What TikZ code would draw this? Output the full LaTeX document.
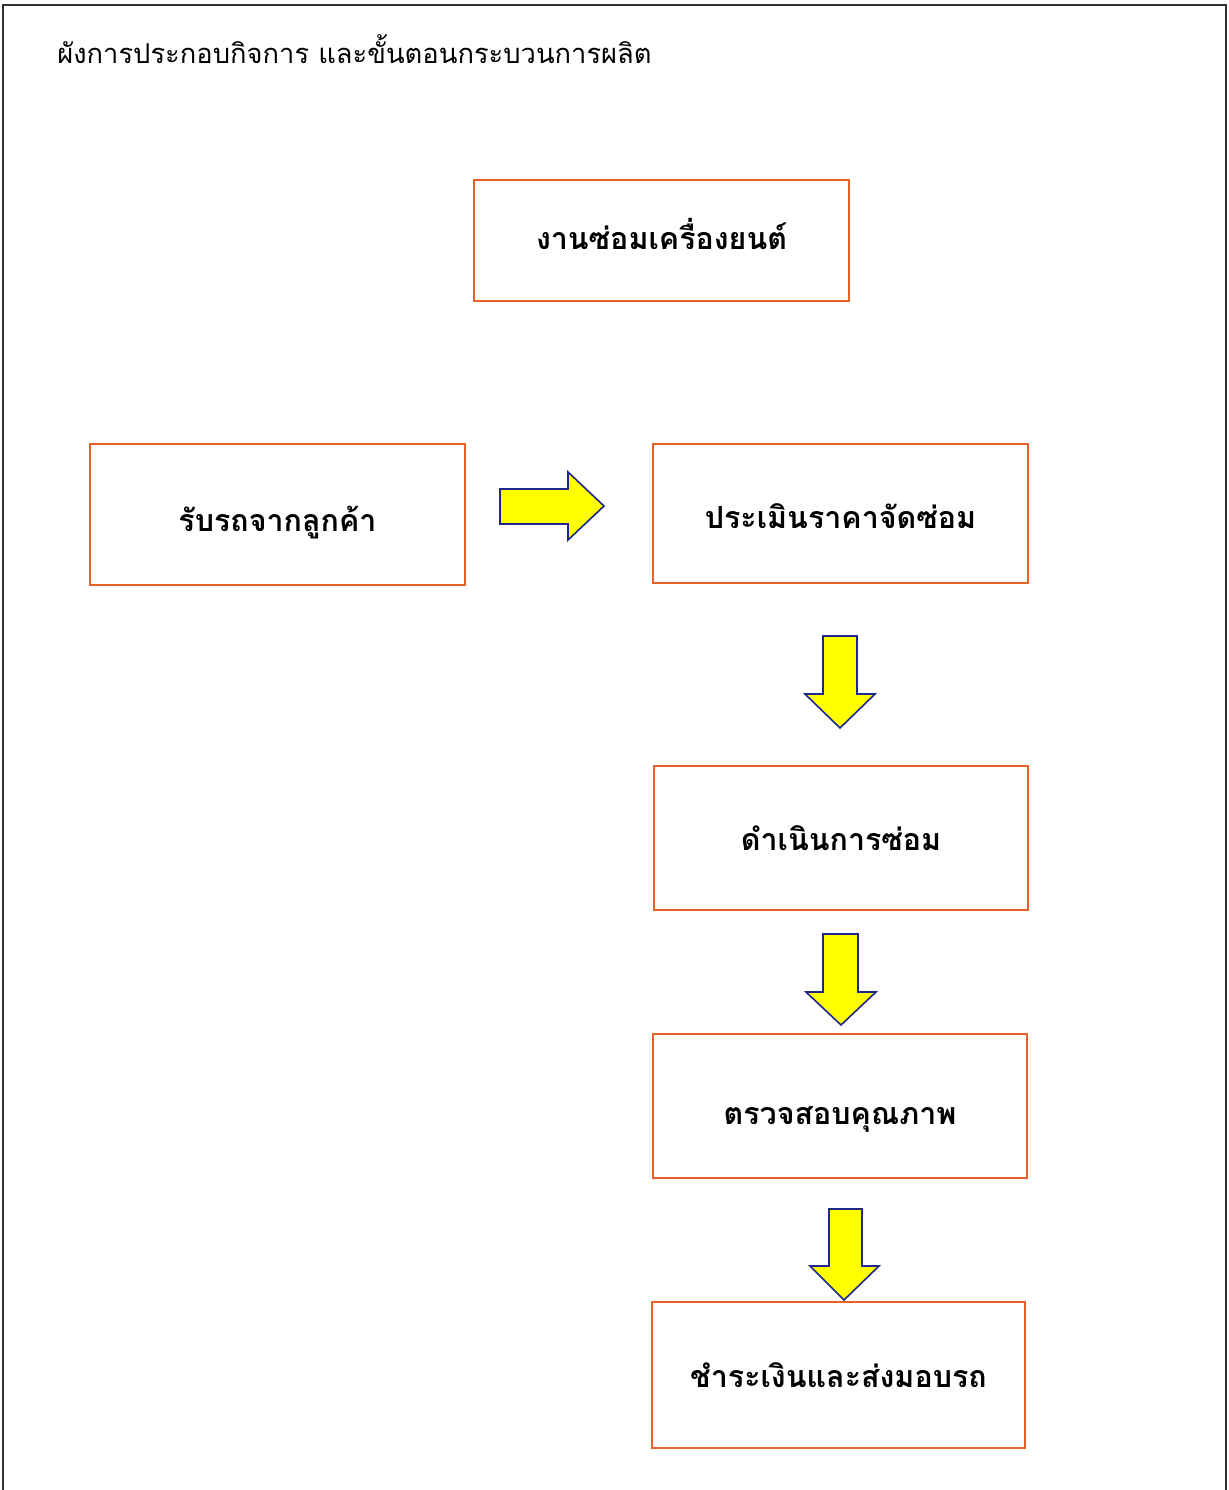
\documentclass[tikz,border=0pt]{standalone}
\usepackage{fontspec}
\newfontfamily\thaifont[Script=Thai]{Loma}
\definecolor{boxorange}{RGB}{232,98,40}
\definecolor{arrowyellow}{RGB}{255,255,0}
\definecolor{arrowblue}{RGB}{30,40,140}
\tikzset{
  stepbox/.style={draw=boxorange, line width=1.1pt, fill=white, inner sep=0pt, text height=17pt, text depth=5pt, font=\thaifont\bfseries\fontsize{15.2}{18}\selectfont},
  fatarrow/.style={draw=arrowblue, line width=0.8pt, fill=arrowyellow, line join=miter},
}
\begin{document}
\begin{tikzpicture}[x=0.5pt,y=-0.5pt]
\useasboundingbox (0,0) rectangle (1229,1490);
% page frame
\draw[line width=1pt, black!80] (3,1490) -- (3,5) -- (1226,5) -- (1226,1490);
% title
\node[anchor=west, inner sep=0pt, font=\thaifont\fontsize{13.65}{16}\selectfont] (title) at (57,49) {ผังการประกอบกิจการ และขั้นตอนกระบวนการผลิต};
% boxes
\node[stepbox, minimum width=187.5pt, minimum height=60.5pt] (b0) at (661.5,240.5) {\raisebox{1.5pt}{งานซ่อมเครื่องยนต์}};
\node[stepbox, minimum width=187.5pt, minimum height=70.5pt] (b1) at (277.5,514.5) {\raisebox{-2.5pt}{รับรถจากลูกค้า}};
\node[stepbox, minimum width=187.5pt, minimum height=69.5pt] (b2) at (840.5,513.5) {\raisebox{-1.5pt}{ประเมินราคาจัดซ่อม}};
\node[stepbox, minimum width=187pt, minimum height=72pt] (b3) at (841,838) {ดำเนินการซ่อม};
\node[stepbox, minimum width=187pt, minimum height=72pt] (b4) at (840,1106) {\raisebox{-3pt}{ตรวจสอบคุณภาพ}};
\node[stepbox, minimum width=186.5pt, minimum height=73pt] (b5) at (838.5,1375) {ชำระเงินและส่งมอบรถ};
% arrows
\draw[fatarrow] (500,489) -- (568,489) -- (568,472) -- (604,506) -- (568,540) -- (568,524) -- (500,524) -- cycle;
\draw[fatarrow] (823,636) -- (857,636) -- (857,694) -- (875,694) -- (840,728) -- (805,694) -- (823,694) -- cycle;
\draw[fatarrow] (823,934) -- (858,934) -- (858,992) -- (876,992) -- (841,1025) -- (806,992) -- (823,992) -- cycle;
\draw[fatarrow] (829,1209) -- (862,1209) -- (862,1266) -- (879,1266) -- (844,1300) -- (810,1266) -- (829,1266) -- cycle;
\end{tikzpicture}
\end{document}
